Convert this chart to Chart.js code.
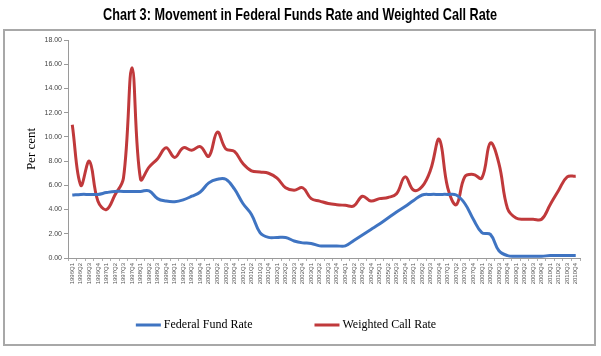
<!DOCTYPE html>
<html><head><meta charset="utf-8">
<script src="https://cdn.jsdelivr.net/npm/chart.js@4.4.1/dist/chart.umd.min.js"></script>
<style>html,body{margin:0;padding:0;background:#fff;}</style>
</head><body>
<canvas id="c" width="601" height="356"></canvas>
<script>
const quarters = [
 "1996Q1","1996Q2","1996Q3","1996Q4","1997Q1","1997Q2","1997Q3","1997Q4",
 "1998Q1","1998Q2","1998Q3","1998Q4","1999Q1","1999Q2","1999Q3","1999Q4",
 "2000Q1","2000Q2","2000Q3","2000Q4","2001Q1","2001Q2","2001Q3","2001Q4",
 "2002Q1","2002Q2","2002Q3","2002Q4","2003Q1","2003Q2","2003Q3","2003Q4",
 "2004Q1","2004Q2","2004Q3","2004Q4","2005Q1","2005Q2","2005Q3","2005Q4",
 "2006Q1","2006Q2","2006Q3","2006Q4","2007Q1","2007Q2","2007Q3","2007Q4",
 "2008Q1","2008Q2","2008Q3","2008Q4","2009Q1","2009Q2","2009Q3","2009Q4",
 "2010Q1","2010Q2","2010Q3","2010Q4"];
const federalFundRate = [
 5.2,5.25,5.25,5.25,5.4,5.5,5.5,5.5,5.5,5.55,
 4.9,4.7,4.65,4.8,5.1,5.45,6.2,6.5,6.5,5.7,
 4.5,3.6,2.1,1.7,1.7,1.7,1.4,1.25,1.2,1.0,
 1.0,1.0,1.0,1.45,1.9,2.35,2.8,3.3,3.8,4.25,
 4.75,5.2,5.25,5.25,5.25,5.2,4.5,3.2,2.1,1.95,
 0.6,0.2,0.15,0.15,0.15,0.15,0.2,0.2,0.2,0.2];
const weightedCallRate = [
 11.0,6.0,8.0,4.7,4.0,5.2,6.6,15.7,6.5,7.5,
 8.2,9.1,8.3,9.1,8.9,9.2,8.4,10.4,9.0,8.8,
 7.8,7.2,7.1,7.0,6.6,5.8,5.6,5.8,4.9,4.7,
 4.5,4.4,4.35,4.3,5.1,4.7,4.9,5.0,5.3,6.7,
 5.6,5.9,7.3,9.8,5.8,4.4,6.7,6.9,6.6,9.5,
 7.8,4.1,3.3,3.2,3.2,3.2,4.4,5.6,6.7,6.75];
const seriesNames = ["Federal Fund Rate","Weighted Call Rate"];
const chartTitle = "Chart 3: Movement in Federal Funds Rate and Weighted Call Rate";
const yMin = 0, yMax = 18, yStep = 2;

const BLUE = '#3f74c2', RED = '#c0393b';

const framePlugin = {
  id: 'frame',
  beforeDraw(chart) {
    const ctx = chart.ctx;
    ctx.save();
    ctx.fillStyle = '#fff';
    ctx.fillRect(0, 0, chart.width, chart.height);
    ctx.strokeStyle = '#a8a8a8';
    ctx.lineWidth = 2;
    ctx.strokeRect(4, 30, 591, 315);
    // title, condensed horizontally like Arial Narrow
    ctx.font = 'bold 17px "Liberation Sans", Arial, sans-serif';
    ctx.fillStyle = '#000';
    ctx.textAlign = 'center';
    ctx.textBaseline = 'middle';
    const w = ctx.measureText(chartTitle).width;
    ctx.translate(300, 15);
    ctx.scale(394 / w, 1);
    ctx.fillText(chartTitle, 0, 0);
    ctx.restore();
  },
  afterDraw(chart) {
    const ctx = chart.ctx;
    ctx.save();
    ctx.font = '12px "Liberation Serif", "Times New Roman", serif';
    ctx.textBaseline = 'middle';
    const sw = 25, gap = 3, between = 62, y = 325;
    const items = chart.data.datasets.map(d => ({text: d.label, color: d.borderColor, w: sw + gap + ctx.measureText(d.label).width}));
    const total = items.reduce((s, it) => s + it.w, 0) + between * (items.length - 1);
    let x = 286 - total / 2;
    items.forEach(it => {
      ctx.fillStyle = it.color;
      ctx.fillRect(x, y - 1.5, sw, 3);
      ctx.fillStyle = '#000';
      ctx.fillText(it.text, x + sw + gap, y);
      x += it.w + between;
    });
    ctx.restore();
  }
};

new Chart(document.getElementById('c'), {
  type: 'line',
  data: {
    labels: quarters,
    datasets: [
      {label: seriesNames[0], data: federalFundRate, borderColor: BLUE, backgroundColor: BLUE, borderWidth: 3, pointRadius: 0, tension: 0.4, fill: false},
      {label: seriesNames[1], data: weightedCallRate, borderColor: RED, backgroundColor: RED, borderWidth: 3, pointRadius: 0, tension: 0.4, fill: false}
    ]
  },
  options: {
    responsive: false,
    animation: false,
    devicePixelRatio: 1,
    layout: {padding: {left: 8, right: 21, top: 40, bottom: 58}},
    plugins: {
      legend: {display: false},
      tooltip: {enabled: false},
      title: {display: false}
    },
    scales: {
      x: {
        offset: true,
        grid: {display: true, drawOnChartArea: false, drawTicks: true, tickLength: 3, color: '#b0b0b0', offset: true},
        border: {display: true, color: '#9a9a9a', width: 1},
        ticks: {autoSkip: false, minRotation: 90, maxRotation: 90, padding: 2, color: '#555', font: {family: '"Liberation Sans", Arial, sans-serif', size: 6}},
        afterFit(scale) { scale.height = 40; }
      },
      y: {
        min: yMin, max: yMax,
        grid: {display: true, drawOnChartArea: false, drawTicks: true, tickLength: 4, color: '#9a9a9a'},
        border: {display: true, color: '#9a9a9a', width: 1},
        ticks: {stepSize: yStep, padding: 2, color: '#444', font: {family: '"Liberation Sans", Arial, sans-serif', size: 7}, callback: v => Number(v).toFixed(2)},
        title: {display: true, text: 'Per cent', color: '#000', font: {family: '"Liberation Serif", "Times New Roman", serif', size: 13}, padding: {top: 16, bottom: 0}},
        afterFit(scale) { scale.width = 60; }
      }
    }
  },
  plugins: [framePlugin]
});
</script>
</body></html>
